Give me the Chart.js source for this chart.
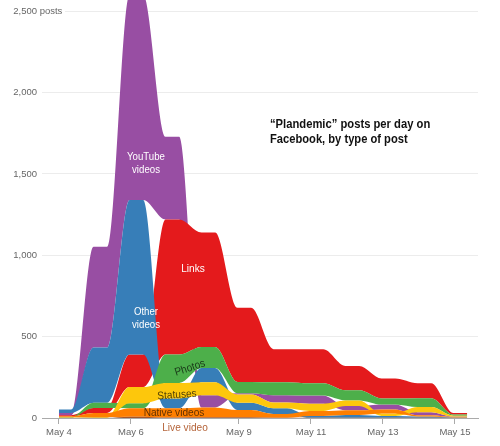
<!DOCTYPE html>
<html><head><meta charset="utf-8">
<script src="https://cdn.jsdelivr.net/npm/chart.js@4.4.1/dist/chart.umd.min.js"></script>
<style>html,body{margin:0;padding:0;background:#fff;}#wrap{width:500px;height:446px;position:relative;}</style>
</head><body><div id="wrap"><canvas id="c" width="500" height="446"></canvas></div>
<script>
// ---------- DATA ----------
const days = ['May 4','May 5','May 6','May 7','May 8','May 9','May 10','May 11','May 12','May 13','May 14','May 15'];
const seriesKeys   = ['youtube','other','links','photos','statuses','native','live'];
const seriesNames  = ['YouTube videos','Other videos','Links','Photos','Statuses','Native videos','Live video'];
const youtube  = [14, 620, 1260, 508,  75,   8,  45,  50,  25,  30,  19, 3];
const other    = [21, 340,  950,  60,  87,  45,  35,  12,  17,  12,   8, 3];
const links    = [ 6,  30,  200, 830, 703, 455, 203, 210, 150, 123,  92, 9];
const photos   = [ 3,  32,   30, 175, 130,  70,  80,  75,  62,  37,  55, 7];
const statuses = [ 2,   5,  100,  95,  80,  50,  35,  45,  35,  15,  31, 5];
const native   = [ 6,  25,   52,  57,  61,  45,  23,  30,  30,  25,   8, 3];
const live     = [ 0,   1,    8,   3,   4,   4,   2,   1,   1,   1,   1, 0];
// stacking order per day, bottom -> top
const stackOrder = [
  ['live','statuses','photos','native','links','youtube','other'],
  ['live','statuses','native','links','photos','other','youtube'],
  ['live','native','photos','statuses','links','other','youtube'],
  ['live','native','other','statuses','photos','links','youtube'],
  ['live','native','youtube','statuses','other','photos','links'],
  ['live','native','other','statuses','youtube','photos','links'],
  ['live','native','other','statuses','youtube','photos','links'],
  ['live','other','native','statuses','youtube','photos','links'],
  ['live','other','native','youtube','statuses','photos','links'],
  ['live','other','statuses','native','youtube','photos','links'],
  ['live','other','native','youtube','statuses','photos','links'],
  ['live','other','native','youtube','statuses','photos','links']
];
const yTicks = [0, 500, 1000, 1500, 2000, 2500];
const yTickLabels = ['0','500','1,000','1,500','2,000','2,500'];
const xTickLabels = ['May 4','May 6','May 9','May 11','May 13','May 15'];

// ---------- STYLE ----------
const colors = {youtube:'#984ea3', other:'#377eb8', links:'#e41a1c', photos:'#4daf4a',
                statuses:'#fdc70c', native:'#ff7f00', live:'#a65628'};
const zOrder = {youtube:7, links:6, other:5, photos:4, statuses:3, native:2, live:1};
const OFFSET = 0.15, HALF = 0.19;
const FONT = '"Liberation Sans", Arial, sans-serif';

const valuesByKey = {youtube, other, links, photos, statuses, native, live};

// build band boundaries from values + stack order
const lowerPts = {}, upperPts = {};
seriesKeys.forEach(k => { lowerPts[k] = []; upperPts[k] = []; });
days.forEach((d, i) => {
  let base = 0;
  const xs = [Math.max(0, i + OFFSET - HALF), i + OFFSET + HALF];
  stackOrder[i].forEach(key => {
    const v = valuesByKey[key][i];
    xs.forEach(x => {
      lowerPts[key].push({x, y: base});
      upperPts[key].push({x, y: base + v});
    });
    base += v;
  });
});

const datasets = [];
seriesKeys.forEach((key) => {
  datasets.push({label: key + '_low', data: lowerPts[key], borderWidth: 0, pointRadius: 0,
    fill: false, cubicInterpolationMode: 'monotone', order: 0, borderColor: 'rgba(0,0,0,0)'});
});
seriesKeys.forEach((key, s) => {
  datasets.push({label: seriesNames[s], data: upperPts[key], borderWidth: 0, pointRadius: 0,
    borderColor: 'rgba(0,0,0,0)', backgroundColor: colors[key],
    fill: {target: s}, cubicInterpolationMode: 'monotone', order: zOrder[key]});
});

function drawText(ctx, text, x, y, o) {
  o = Object.assign({size: 11, weight: 'normal', color: '#fff', rot: 0, squeeze: 0.92, align: 'center'}, o || {});
  ctx.save();
  ctx.translate(x, y);
  ctx.rotate(o.rot * Math.PI / 180);
  ctx.font = `${o.weight} ${o.size}px ${FONT}`;
  ctx.fillStyle = o.color;
  ctx.textAlign = o.align;
  ctx.textBaseline = 'middle';
  const w = ctx.measureText(text).width;
  ctx.fillText(text, 0, 0, w * o.squeeze);
  ctx.restore();
}

const annotate = {
  id: 'annotate',
  afterDraw(chart) {
    const ctx = chart.ctx;
    const y = chart.scales.y;
    // y tick labels
    yTicks.forEach((v, i) => {
      const py = y.getPixelForValue(v);
      ctx.save();
      ctx.font = `9.5px ${FONT}`;
      ctx.textBaseline = 'middle';
      if (i === yTicks.length - 1) {
        ctx.fillStyle = '#fff';
        ctx.fillRect(38, py - 6, 27, 12);
      }
      ctx.fillStyle = '#666';
      ctx.textAlign = 'right';
      ctx.fillText(yTickLabels[i], 37, py);
      if (i === yTicks.length - 1) {
        ctx.textAlign = 'left';
        ctx.fillText(' posts', 37, py);
      }
      ctx.restore();
    });
    // title
    drawText(ctx, '\u201cPlandemic\u201d posts per day on', 270, 125, {size: 12, weight: 'bold', color: '#111', align: 'left', squeeze: 0.935});
    drawText(ctx, 'Facebook, by type of post', 270, 139.5, {size: 12, weight: 'bold', color: '#111', align: 'left', squeeze: 0.93});
    // series labels
    drawText(ctx, 'YouTube', 146, 157, {size: 10.5});
    drawText(ctx, 'videos', 146, 170, {size: 10.5});
    drawText(ctx, 'Other', 146, 312, {size: 10.5});
    drawText(ctx, 'videos', 146, 325, {size: 10.5});
    drawText(ctx, 'Links', 193, 269, {size: 11});
    drawText(ctx, 'Photos', 190, 368, {size: 11, color: 'rgba(0,0,0,0.68)', rot: -18});
    drawText(ctx, 'Statuses', 177, 395, {size: 11, color: 'rgba(0,0,0,0.7)', rot: -4});
    drawText(ctx, 'Native videos', 174, 413, {size: 11, color: 'rgba(40,20,0,0.75)'});
    drawText(ctx, 'Live video', 185, 428, {size: 11, color: '#b5643a'});
  }
};

new Chart(document.getElementById('c'), {
  type: 'line',
  data: {datasets},
  options: {
    responsive: false,
    animation: false,
    devicePixelRatio: 1,
    layout: {padding: {left: 42, right: 22, top: 0, bottom: 0}},
    plugins: {legend: {display: false}, tooltip: {enabled: false}},
    elements: {line: {tension: 0.4}},
    scales: {
      x: {
        type: 'linear', min: -0.47, max: 11.64, z: 1,
        afterBuildTicks: s => { s.ticks = xTickLabels.map(l => ({value: days.indexOf(l)})); },
        afterFit: s => { s.height = 28; },
        ticks: {callback: (v) => days[v] !== undefined && xTickLabels.includes(days[v]) ? days[v] : '',
                font: {size: 9.5, family: FONT}, color: '#666', padding: 3, maxRotation: 0, autoSkip: false},
        grid: {display: true, drawOnChartArea: false, drawTicks: true, tickLength: 6, color: '#aaa'},
        border: {display: true, color: '#aaa', width: 1}
      },
      y: {
        min: 0, max: 2569,
        afterBuildTicks: s => { s.ticks = yTicks.map(v => ({value: v})); },
        afterFit: s => { s.width = 0; },
        ticks: {display: false},
        grid: {color: ctx => ctx.tick && ctx.tick.value === 0 ? 'rgba(0,0,0,0)' : '#ececec', drawTicks: false},
        border: {display: false}
      }
    }
  },
  plugins: [annotate]
});
</script>
</body></html>
